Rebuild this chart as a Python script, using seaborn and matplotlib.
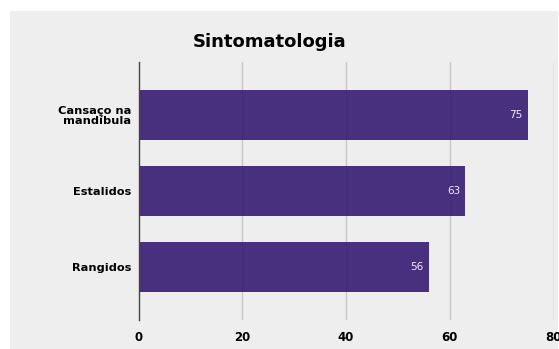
import matplotlib
matplotlib.use("Agg")
import matplotlib.pyplot as plt
from matplotlib.patches import Rectangle
import seaborn as sns
import pandas as pd

categories = ["Cansaço na\nmandíbula", "Estalidos", "Rangidos"]
values = [75, 63, 56]
x_ticks = [0, 20, 40, 60, 80]
title = "Sintomatologia"

bar_color = "#48307f"
panel_color = "#eeeeee"

df = pd.DataFrame({"sintoma": categories, "valor": values})

sns.set_theme(style="white")
plt.rcParams["font.family"] = ["DejaVu Sans"]

fig = plt.figure(figsize=(5.59, 3.49), dpi=100)
fig.patch.set_facecolor("white")
# grey card behind the chart
fig.patches.append(Rectangle((10 / 559, 0), 548 / 559, 1 - 11 / 349,
                             transform=fig.transFigure, facecolor=panel_color,
                             edgecolor="none", zorder=-10))

ax = fig.add_axes([138.5 / 559, 1 - 320 / 349, 415 / 559, (320 - 62) / 349])
ax.set_facecolor("none")
ax.set_zorder(5)

sns.barplot(data=df, x="valor", y="sintoma", color=bar_color, saturation=1,
            width=0.655, edgecolor="none", linewidth=0, ax=ax, zorder=2)

ax.set_xlim(0, 80)
ax.set_ylim(2.69, -0.69)
ax.set_xticks(x_ticks)
ax.set_xticklabels([str(t) for t in x_ticks], fontweight="heavy", fontsize=8.5,
                   color="black")
ax.tick_params(axis="x", length=0, pad=8)
ax.tick_params(axis="y", length=0, pad=5)
for lbl in ax.get_yticklabels():
    lbl.set_fontweight("heavy")
    lbl.set_fontsize(8.2)
    lbl.set_color("black")
    lbl.set_linespacing(1.0)
ax.set_xlabel("")
ax.set_ylabel("")

# vertical gridlines behind the bars, plus a faint trace across them
for x in x_ticks[1:]:
    ax.axvline(x, color="#d4d4d4", linewidth=1, zorder=1)
    ax.axvline(x, color="black", alpha=0.06, linewidth=1, zorder=3)
for s in ["top", "right", "bottom"]:
    ax.spines[s].set_visible(False)
ax.spines["left"].set_color("#444444")
ax.spines["left"].set_linewidth(1)
ax.spines["left"].set_zorder(3)

for i, v in enumerate(values):
    ax.text(v - 1.0, i, str(v), ha="right", va="center", fontsize=7.5,
            color="#f0ecf8", fontweight="normal", zorder=4)

fig.text(270 / 559, 1 - 42 / 349, title, ha="center", va="center",
         fontsize=13, fontweight="heavy", color="black")

fig.savefig("out.png", dpi=100)
